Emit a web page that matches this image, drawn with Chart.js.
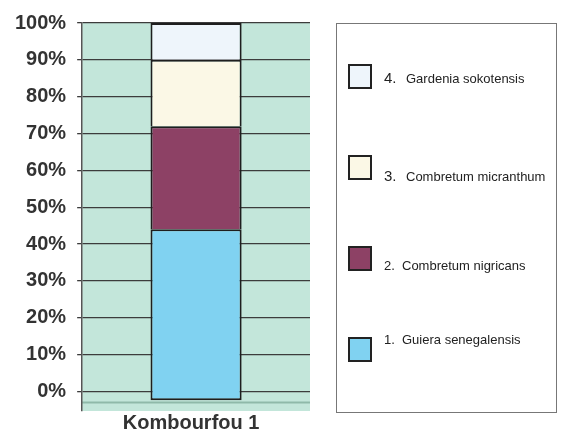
<!DOCTYPE html>
<html>
<head>
<meta charset="utf-8">
<script src="https://cdn.jsdelivr.net/npm/chart.js@4.4.1/dist/chart.umd.min.js"></script>
<style>
  body { margin: 0; background: #fff; }
</style>
</head>
<body>
<canvas id="chart" width="561" height="435"></canvas>
<script>
// stand composition, share of stems per species (%)
const sites = ['Kombourfou 1'];
const species = ['Guiera senegalensis', 'Combretum nigricans', 'Combretum micranthum', 'Gardenia sokotensis'];
const shares = [44, 28, 18, 10];
const colors = ['#80d2f1', '#8d4165', '#fbf8e6', '#eef5fb'];
const yTicks = [0, 10, 20, 30, 40, 50, 60, 70, 80, 90, 100];

const FONT = '"Liberation Sans", Arial, sans-serif';

// mint plot background plus the lower floor line
const plotBackground = {
  id: 'plotBackground',
  beforeDraw(chart) {
    const { ctx, chartArea: a, scales: { y } } = chart;
    ctx.save();
    ctx.fillStyle = '#c3e6da';
    ctx.fillRect(a.left, a.top, a.right - a.left, a.bottom - a.top);
    const yf = y.getPixelForValue(-3);
    ctx.strokeStyle = '#8fb9a9';
    ctx.lineWidth = 2;
    ctx.beginPath();
    ctx.moveTo(a.left, yf);
    ctx.lineTo(a.right, yf);
    ctx.stroke();
    ctx.restore();
  }
};

// boxed legend on the right, top item = top segment
const boxLegend = {
  id: 'boxLegend',
  afterDraw(chart) {
    const ctx = chart.ctx;
    const box = { x: 336, y: 23, w: 220, h: 389 };
    const textDy = [-9, 8, 9.5, 2.5];
    ctx.save();
    ctx.strokeStyle = '#777';
    ctx.lineWidth = 1;
    ctx.strokeRect(box.x + 0.5, box.y + 0.5, box.w, box.h);
    ctx.textBaseline = 'middle';
    const n = chart.data.datasets.length;
    for (let i = n - 1; i >= 0; i--) {
      const ds = chart.data.datasets[i];
      const row = n - 1 - i;
      const sy = 65 + row * 91;
      ctx.fillStyle = ds.backgroundColor;
      ctx.fillRect(349, sy, 22, 23);
      ctx.strokeStyle = '#222';
      ctx.lineWidth = 2;
      ctx.strokeRect(349, sy, 22, 23);
      const ty = sy + 11.5 + textDy[i];
      ctx.fillStyle = '#222';
      ctx.font = (i >= 2 ? '15px ' : '13px ') + FONT;
      ctx.fillText((i + 1) + '.', 384, ty);
      ctx.font = '13px ' + FONT;
      ctx.fillText(ds.label, i >= 2 ? 406 : 402, ty);
    }
    ctx.restore();
  }
};

new Chart(document.getElementById('chart'), {
  type: 'bar',
  data: {
    labels: sites,
    datasets: species.map((name, i) => ({
      label: name,
      data: [shares[i]],
      backgroundColor: colors[i],
      borderColor: '#1e1e1e',
      borderWidth: 2,
      // upper segments reuse the top edge of the one below
      borderSkipped: i === 0 ? false : 'start',
      barPercentage: 0.4,
      categoryPercentage: 1,
      // bottom segment hangs a little below the zero line
      base: i === 0 ? -2.4 : undefined
    }))
  },
  options: {
    responsive: false,
    animation: false,
    layout: { padding: { left: 4, right: 251, top: 21, bottom: 0 } },
    plugins: {
      legend: { display: false },
      tooltip: { enabled: false }
    },
    scales: {
      x: {
        stacked: true,
        grid: { display: false, drawTicks: false },
        border: { display: false },
        ticks: {
          padding: 0,
          labelOffset: -5,
          color: '#333',
          font: { family: FONT, size: 20, weight: 'bold' }
        }
      },
      y: {
        stacked: true,
        min: -5.3,
        max: 100,
        afterBuildTicks(scale) {
          scale.ticks = yTicks.map(v => ({ value: v }));
        },
        grid: { color: '#3c3c3c', lineWidth: 1.3, tickLength: 5 },
        border: { color: '#555', width: 1.5 },
        ticks: {
          padding: 11,
          color: '#333',
          font: { family: FONT, size: 20, weight: 'bold' },
          callback: v => v + '%'
        }
      }
    }
  },
  plugins: [plotBackground, boxLegend]
});
</script>
</body>
</html>
